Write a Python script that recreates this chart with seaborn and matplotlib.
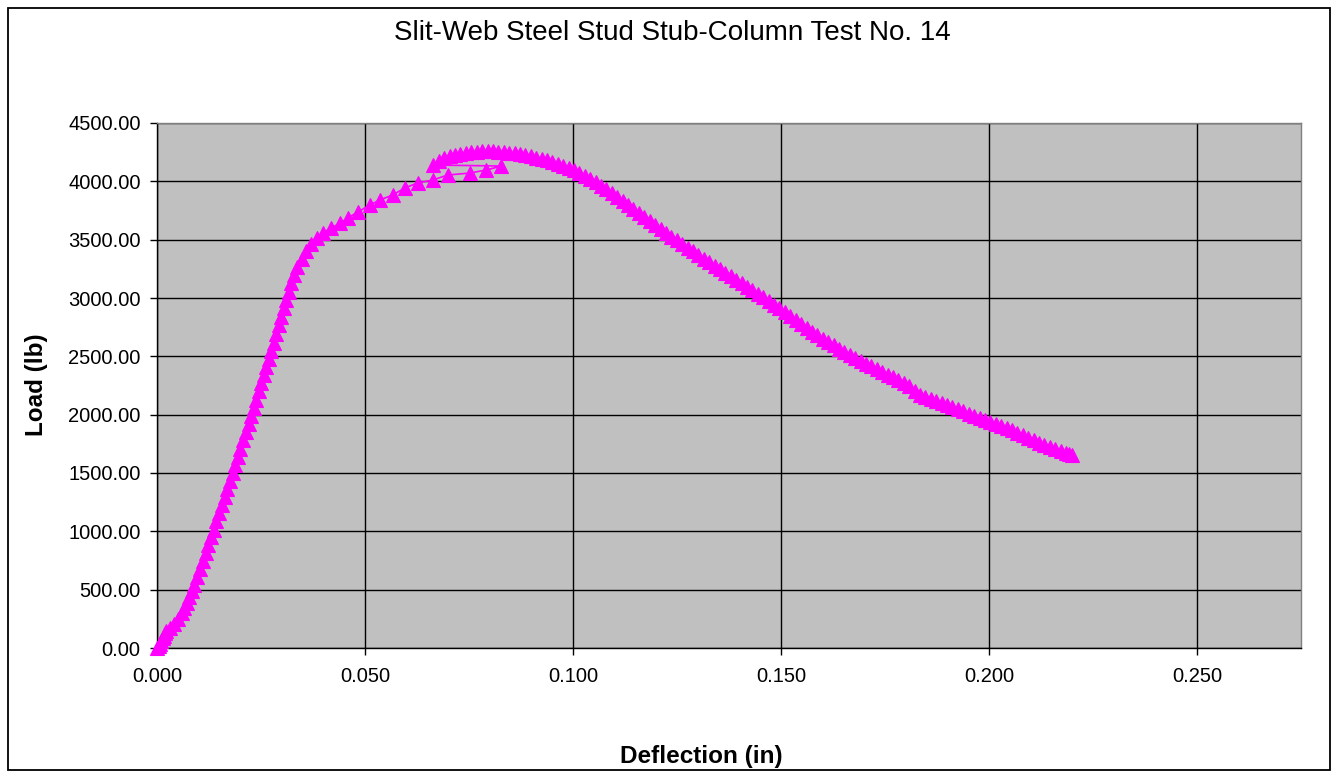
import matplotlib
matplotlib.use('Agg')
import matplotlib.pyplot as plt
import seaborn as sns
import pandas as pd
from matplotlib.patches import Rectangle
from matplotlib.ticker import MultipleLocator, FormatStrFormatter

# loading branch (incl. the slightly lower points before the peak)
rise_x = [0.0000, 0.0003, 0.0006, 0.0010, 0.0013, 0.0016, 0.0019, 0.0022, 0.0030, 0.0040,
          0.0050, 0.0059, 0.0065, 0.0071, 0.0077, 0.0083, 0.0088, 0.0095, 0.0102, 0.0109,
          0.0116, 0.0122, 0.0129, 0.0136, 0.0142, 0.0149, 0.0155, 0.0162, 0.0168, 0.0174,
          0.0181, 0.0187, 0.0194, 0.0200, 0.0207, 0.0213, 0.0220, 0.0226, 0.0232, 0.0238,
          0.0244, 0.0250, 0.0256, 0.0262, 0.0268, 0.0274, 0.0280, 0.0286, 0.0292, 0.0298,
          0.0304, 0.0310, 0.0316, 0.0322, 0.0329, 0.0337, 0.0347, 0.0358, 0.0370, 0.0383,
          0.0399, 0.0418, 0.0439, 0.0458, 0.0482, 0.0511, 0.0535, 0.0566, 0.0595, 0.0626,
          0.0662, 0.0698, 0.0751, 0.0791, 0.0827]
rise_y = [0, 18, 38, 60, 82, 105, 128, 150, 175, 205,
          250, 300, 345, 390, 440, 490, 540, 605, 675, 745,
          815, 880, 950, 1015, 1085, 1155, 1225, 1295, 1365, 1435,
          1500, 1570, 1640, 1710, 1780, 1850, 1920, 1990, 2060, 2130,
          2200, 2270, 2340, 2410, 2475, 2545, 2615, 2690, 2765, 2840,
          2915, 2985, 3055, 3125, 3195, 3265, 3335, 3400, 3465, 3515,
          3560, 3600, 3640, 3686, 3737, 3797, 3840, 3883, 3943, 3986,
          4011, 4054, 4071, 4097, 4131]

# peak and post-buckling branch
arc_x = [0.0664, 0.0677, 0.0690, 0.0703, 0.0716, 0.0729, 0.0742, 0.0755, 0.0768, 0.0781,
         0.0794, 0.0807, 0.0820, 0.0833, 0.0846, 0.0859, 0.0872, 0.0885, 0.0898, 0.0911,
         0.0924, 0.0937, 0.0950, 0.0963, 0.0976, 0.0989, 0.1002, 0.1015, 0.1028, 0.1041,
         0.1054, 0.1067, 0.1080, 0.1093, 0.1106, 0.1119, 0.1132, 0.1145, 0.1158, 0.1171,
         0.1184, 0.1197, 0.1210, 0.1223, 0.1236, 0.1249, 0.1262, 0.1275, 0.1288, 0.1301,
         0.1314, 0.1327, 0.1340, 0.1353, 0.1366, 0.1379, 0.1392, 0.1405, 0.1418, 0.1431,
         0.1444, 0.1457, 0.1470, 0.1483, 0.1496, 0.1509, 0.1522, 0.1535, 0.1548, 0.1561,
         0.1574, 0.1587, 0.1600, 0.1613, 0.1626, 0.1639, 0.1652, 0.1665, 0.1678, 0.1691,
         0.1704, 0.1717, 0.1730, 0.1743, 0.1756, 0.1769, 0.1782, 0.1795, 0.1808, 0.1821,
         0.1834, 0.1847, 0.1860, 0.1873, 0.1886, 0.1899, 0.1912, 0.1925, 0.1938, 0.1951,
         0.1964, 0.1977, 0.1990, 0.2003, 0.2016, 0.2029, 0.2042, 0.2055, 0.2068, 0.2081,
         0.2094, 0.2107, 0.2120, 0.2133, 0.2146, 0.2159, 0.2172, 0.2185, 0.2193, 0.2199]
arc_y = [4140, 4178, 4203, 4220, 4230, 4238, 4244, 4249, 4253, 4256,
         4258, 4257, 4255, 4252, 4247, 4241, 4234, 4225, 4215, 4204,
         4192, 4179, 4165, 4150, 4133, 4115, 4094, 4072, 4048, 4022,
         3994, 3964, 3932, 3899, 3865, 3831, 3797, 3763, 3729, 3695,
         3661, 3628, 3594, 3560, 3527, 3495, 3464, 3432, 3401, 3369,
         3338, 3306, 3276, 3246, 3216, 3186, 3156, 3126, 3096, 3066,
         3036, 3006, 2975, 2944, 2913, 2881, 2847, 2813, 2779, 2745,
         2712, 2682, 2652, 2623, 2593, 2564, 2536, 2511, 2487, 2462,
         2438, 2413, 2389, 2366, 2343, 2320, 2296, 2273, 2245, 2200,
         2165, 2148, 2132, 2116, 2100, 2082, 2064, 2046, 2028, 2010,
         1992, 1974, 1956, 1938, 1920, 1902, 1884, 1865, 1845, 1824,
         1803, 1782, 1760, 1742, 1725, 1707, 1690, 1673, 1662, 1654]

title = 'Slit-Web Steel Stud Stub-Column Test No. 14'
x_label = 'Deflection (in)'
y_label = 'Load (lb)'

sns.set_style('white')
plt.rcParams['font.family'] = ['Liberation Sans', 'DejaVu Sans']
plt.rcParams['text.color'] = 'black'

df = pd.DataFrame({'Deflection': rise_x + arc_x, 'Load': rise_y + arc_y})

W, H = 1337, 776
fig = plt.figure(figsize=(W / 100, H / 100), dpi=100)
ax = fig.add_axes([157.3 / W, 1 - 648 / H, (1301 - 157.3) / W, (648 - 123) / H])
ax.set_facecolor('#C0C0C0')

sns.lineplot(data=df, x='Deflection', y='Load', sort=False, estimator=None, ax=ax,
             color='#FF00FF', lw=1.2, marker='^', markersize=10.5,
             markeredgecolor='#FF00FF', markeredgewidth=0.8, clip_on=False, zorder=5)

ax.set_xlim(0, 0.275)
ax.set_ylim(0, 4500)
ax.xaxis.set_major_locator(MultipleLocator(0.05))
ax.xaxis.set_major_formatter(FormatStrFormatter('%.3f'))
ax.yaxis.set_major_locator(MultipleLocator(500))
ax.yaxis.set_major_formatter(FormatStrFormatter('%.2f'))
ax.grid(True, color='black', lw=1)
ax.set_axisbelow(True)
ax.tick_params(bottom=True, left=True, direction='out', length=5, width=1,
               color='black', labelsize=14.5, labelcolor='black')
ax.tick_params(axis='x', pad=9)
ax.tick_params(axis='y', pad=7)
for side in ['top', 'right']:
    ax.spines[side].set_color('#808080')
for side in ['left', 'bottom']:
    ax.spines[side].set_color('black')
for s in ax.spines.values():
    s.set_linewidth(1)
ax.set_xlabel('')
ax.set_ylabel('')

fig.text(672.5 / W, 1 - 33 / H, title, ha='center', va='center', fontsize=20, color='black')
fig.text(701 / W, 1 - 757 / H, x_label, ha='center', va='center', fontsize=17.5,
         fontweight='bold', color='black')
fig.text(37 / W, 1 - 385 / H, y_label, ha='center', va='center', rotation=90,
         fontsize=17.5, fontweight='bold', color='black')

fig.add_artist(Rectangle((8 / W, 6 / H), (1330 - 8) / W, (770 - 8) / H,
                         transform=fig.transFigure, fill=False, edgecolor='black', lw=1.3))

fig.savefig('out.png', dpi=100)
